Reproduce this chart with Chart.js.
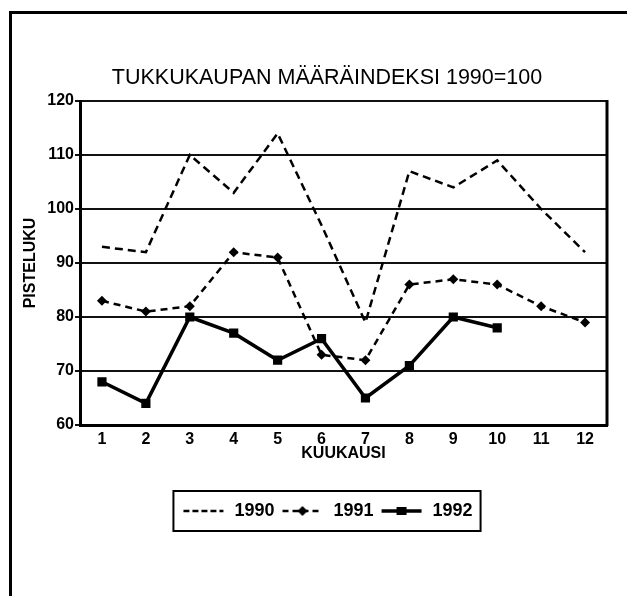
<!DOCTYPE html>
<html lang="fi">
<head>
  <meta charset="UTF-8">
  <title>Tukkukaupan määräindeksi</title>
  <script src="https://cdn.jsdelivr.net/npm/chart.js@4/dist/chart.umd.min.js"></script>
  <style>
    html, body { margin: 0; padding: 0; background: #fff; }
    #wrap { position: relative; width: 627px; height: 596px; overflow: hidden; }
    #frame { position: absolute; left: 9px; top: 11px; width: 700px; height: 700px;
             border-left: 3px solid #000; border-top: 3px solid #000; }
    #graf { position: absolute; left: 0; top: 0; }
  </style>
</head>
<body>
  <div id="wrap">
    <div id="frame"></div>
    <canvas id="graf" width="627" height="596"></canvas>
  </div>

  <script>
    /* --- Data --- */
    const kuukaudet = ['1','2','3','4','5','6','7','8','9','10','11','12'];
    const v1990 = [93, 92, 110, 103, 114, 97, 79, 107, 104, 109, 100, 92];
    const v1991 = [83, 81, 82, 92, 91, 73, 72, 86, 87, 86, 82, 79];
    const v1992 = [68, 64, 80, 77, 72, 76, 65, 71, 80, 78];
    const yTicks = [60, 70, 80, 90, 100, 110, 120];

    const NARROW = "'Liberation Sans Narrow', 'Liberation Sans', Arial, sans-serif";
    const SANS = "'Liberation Sans', Arial, sans-serif";

    /* pienet selitekuvat (viiva + merkki) */
    function sample(kind) {
      const c = document.createElement('canvas');
      c.width = 44; c.height = 14;
      const g = c.getContext('2d');
      g.strokeStyle = '#000'; g.fillStyle = '#000';
      if (kind === 0) {
        g.lineWidth = 2.5; g.setLineDash([6, 3]);
        g.beginPath(); g.moveTo(2, 7); g.lineTo(42, 7); g.stroke();
      } else if (kind === 1) {
        g.lineWidth = 2.5; g.setLineDash([6, 4]);
        g.beginPath(); g.moveTo(2, 7); g.lineTo(42, 7); g.stroke();
        g.beginPath(); g.moveTo(22, 2); g.lineTo(27, 7); g.lineTo(22, 12); g.lineTo(17, 7); g.closePath(); g.fill();
      } else {
        g.lineWidth = 3.5;
        g.beginPath(); g.moveTo(2, 7); g.lineTo(42, 7); g.stroke();
        g.fillRect(17, 3, 10, 8);
      }
      return c;
    }
    const samples = [sample(0), sample(1), sample(2)];

    /* kehys piirtoalueen oikealle reunalle + selitteen laatikko */
    const kehys = {
      id: 'kehys',
      afterDraw(chart) {
        const { ctx, chartArea: a } = chart;
        ctx.save();
        ctx.strokeStyle = '#000';
        ctx.lineWidth = 3;
        ctx.beginPath();
        ctx.moveTo(a.right, a.top - 1);
        ctx.lineTo(a.right, a.bottom + 1);
        ctx.stroke();

        const hb = chart.legend.legendHitBoxes;
        if (hb && hb.length) {
          const l = Math.min(...hb.map(h => h.left));
          const r = Math.max(...hb.map(h => h.left + h.width));
          const cy = hb[0].top + hb[0].height / 2;
          ctx.lineWidth = 2;
          ctx.strokeRect(l - 8, cy - 20, r - l + 16, 40);
        }
        ctx.restore();
      }
    };

    new Chart(document.getElementById('graf'), {
      type: 'line',
      data: {
        labels: kuukaudet,
        datasets: [
          { label: '1990', data: v1990, borderColor: '#000', borderWidth: 2.5,
            borderDash: [8, 5], pointRadius: 0, tension: 0 },
          { label: '1991', data: v1991, borderColor: '#000', backgroundColor: '#000',
            borderWidth: 2.5, borderDash: [7, 5], pointStyle: 'rectRot', pointRadius: 5,
            pointBorderWidth: 0, tension: 0 },
          { label: '1992', data: v1992, borderColor: '#000', backgroundColor: '#000',
            borderWidth: 3.5, pointStyle: 'rect', pointRadius: 6.5,
            pointBorderWidth: 0, tension: 0 }
        ]
      },
      options: {
        responsive: false,
        animation: false,
        layout: { padding: { left: 47, right: 20, top: 0, bottom: 66 } },
        plugins: {
          title: {
            display: true,
            text: 'TUKKUKAUPAN MÄÄRÄINDEKSI 1990=100',
            color: '#000',
            font: { family: SANS, size: 21.5, weight: 'normal' },
            padding: { top: 65, bottom: 10.2 }
          },
          legend: {
            position: 'bottom',
            labels: {
              usePointStyle: true,
              pointStyleWidth: 44,
              boxHeight: 16,
              padding: 6,
              color: '#000',
              font: { family: NARROW, size: 18, weight: 'bold' },
              generateLabels: chart => chart.data.datasets.map((d, i) => ({
                text: d.label, pointStyle: samples[i], datasetIndex: i,
                fillStyle: '#000', strokeStyle: '#000', lineWidth: 0, hidden: false
              }))
            }
          },
          tooltip: { enabled: false }
        },
        scales: {
          x: {
            offset: true,
            grid: { display: false, drawTicks: false },
            border: { display: true, color: '#000', width: 3 },
            ticks: { color: '#000', padding: 5, font: { family: NARROW, size: 16, weight: 'bold' } },
            title: { display: true, text: 'KUUKAUSI', color: '#000',
                     font: { family: SANS, size: 16, weight: 'bold' },
                     padding: { top: 0, bottom: 33 } },
            afterFit: s => { s.height = 71; }
          },
          y: {
            min: 60, max: 120,
            afterBuildTicks: s => { s.ticks = yTicks.map(v => ({ value: v })); },
            grid: { color: '#111', lineWidth: 2, tickLength: 5, drawTicks: true },
            border: { display: true, color: '#000', width: 3 },
            ticks: { color: '#000', padding: 1, font: { family: NARROW, size: 16, weight: 'bold' } },
            title: { display: true, text: 'PISTELUKU', color: '#000',
                     font: { family: SANS, size: 16, weight: 'bold' },
                     padding: { top: -25.6, bottom: 0 } },
            afterFit: s => { s.width = 33; }
          }
        }
      },
      plugins: [kehys]
    });
  </script>
</body>
</html>
